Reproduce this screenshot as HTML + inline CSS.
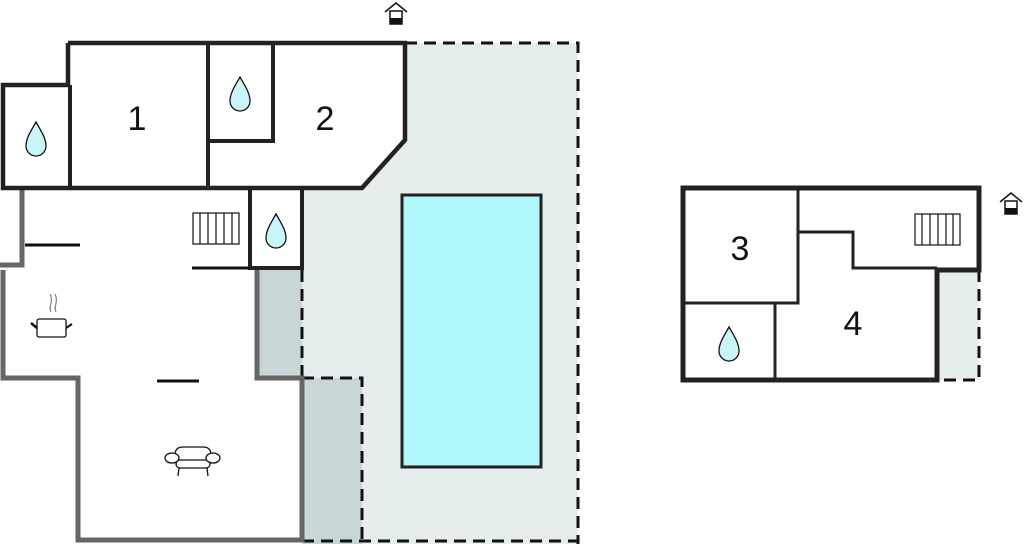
<!DOCTYPE html>
<html><head><style>html,body{margin:0;padding:0;background:#fff}svg{display:block}</style></head><body>
<svg width="1024" height="544" viewBox="0 0 1024 544" xmlns="http://www.w3.org/2000/svg">
<defs>
<g id="drop"><path d="M0,-18 C5,-9 10,-2 10,6 A10,10 0 0 1 -10,6 C-10,-2 -5,-9 0,-18Z" fill="#c9f4f8" stroke="#111" stroke-width="1.3"/></g>
<g id="house"><path d="M-11,0 L0,-9 L11,0" fill="none" stroke="#111" stroke-width="1.5"/><rect x="-6" y="-1" width="12" height="13" fill="#fff" stroke="#111" stroke-width="1.5"/><rect x="-6" y="6" width="12" height="6" fill="#111"/></g>
</defs>
<polygon points="405,43 578,43 578,544 302,544 302,268 302,188 362,188 405,140" fill="#e6eeed"/>
<rect x="257" y="270" width="45" height="108" fill="#c8d6d7"/>
<rect x="302" y="378" width="60" height="166" fill="#c8d6d7"/>
<rect x="937" y="270" width="42" height="110" fill="#e6eeed"/>
<rect x="402" y="195" width="139" height="272" fill="#aef8fb" stroke="#222" stroke-width="3"/>
<g fill="none" stroke="#111" stroke-width="3" stroke-dasharray="12,7">
<path d="M405,43 H578 V544"/>
<path d="M302,378 H362 V544"/>
<path d="M302,270 V378"/>
<path d="M245,541 H578"/>
<path d="M979,270 V380 H937"/>
</g>
<g fill="none" stroke="#666" stroke-width="5">
<path d="M22,188 V265 H0"/>
<path d="M3,270 V378 H78 V540 H302 V378 H257 V270"/>
</g>
<g fill="none" stroke="#222" stroke-width="4.5">
<path d="M68,43 H405 V140 L362,188 H3 V85 H68 V43"/>
<path d="M70,85 V187 M208,43 V187 M273,43 V141 H208" stroke-width="4"/>
<path d="M250,188 V268 H302 V188" stroke-width="4"/>
<path d="M683,188 H979 V270 H937 V380 H683 Z" stroke-width="5"/>
<path d="M798,188 V303 H683 M798,232 H853 V268 H937 M775,303 V380" stroke-width="3"/>
</g>
<g stroke="#111" stroke-width="3">
<line x1="25" y1="245" x2="80" y2="245"/>
<line x1="192" y1="268" x2="250" y2="268"/>
<line x1="157" y1="381" x2="199" y2="381"/>
</g>
<g fill="none" stroke="#111" stroke-width="1.2">
<rect x="193" y="213" width="46" height="31"/>
<path d="M200,213V244M208,213V244M216,213V244M224,213V244M232,213V244"/>
<rect x="915" y="214" width="45" height="31"/>
<path d="M922,214V245M930,214V245M938,214V245M946,214V245M953,214V245"/>
</g>
<use href="#drop" x="36" y="140"/>
<use href="#drop" x="240" y="95"/>
<use href="#drop" x="276" y="232"/>
<use href="#drop" x="729" y="345"/>
<use href="#house" x="396" y="12"/>
<use href="#house" x="1011" y="202"/>
<g fill="none" stroke="#111" stroke-width="1.3">
<rect x="37" y="319" width="29" height="18" rx="2"/>
<line x1="31" y1="323" x2="37" y2="328" stroke-width="2.5"/>
<line x1="66" y1="328" x2="72" y2="324" stroke-width="2"/>
<path d="M51,312 C48,306 54,302 50,294 M56,312 C53,306 59,302 55,294" stroke="#888"/>
</g>
<g fill="#fff" stroke="#111" stroke-width="1.3">
<path d="M175,462 V455 Q175,447 183,447 H203 Q211,447 211,455 V462"/>
<rect x="176" y="460" width="34" height="8" rx="4"/>
<ellipse cx="172" cy="458" rx="7" ry="5"/>
<ellipse cx="213" cy="458" rx="7" ry="5"/>
<path d="M179,468 L178,476 M207,468 L208,476" fill="none"/>
</g>
<g font-family="Liberation Sans, sans-serif" font-size="34" fill="#111" text-anchor="middle">
<text x="137" y="130">1</text>
<text x="325" y="130">2</text>
<text x="740" y="260">3</text>
<text x="853" y="335">4</text>
</g>
</svg>
</body></html>
